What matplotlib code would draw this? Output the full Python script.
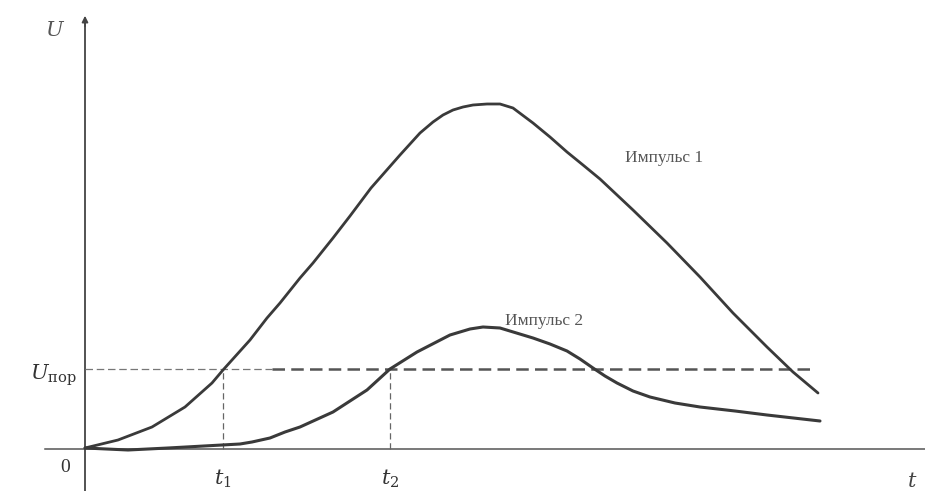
import matplotlib
matplotlib.use("Agg")
import matplotlib.pyplot as plt

# Pulse 1 (time, voltage)
t1_curve = [0, 33, 67, 100, 127, 138, 147, 165, 182, 195, 215, 228, 248, 265, 286, 315, 335, 348,
            358, 368, 378, 388, 402, 415, 428, 448, 465, 482, 498, 515, 548, 582, 615, 648, 682, 708, 733]
u1_curve = [1, 9, 22, 42, 66, 79, 89, 109, 131, 146, 171, 186, 211, 233, 261, 294, 316, 327,
            334, 339, 342, 344, 345, 345, 341, 326, 312, 297, 284, 270, 239, 206, 172, 136, 102, 77, 56]

# Pulse 2
t2_curve = [0, 43, 83, 137, 155, 167, 185, 200, 215, 248, 282, 305, 332, 365, 385, 398, 415, 448,
            465, 482, 495, 508, 520, 532, 548, 565, 590, 615, 650, 682, 735]
u2_curve = [1, -1, 1, 4, 5, 7, 11, 17, 22, 37, 59, 80, 97, 114, 120, 122, 121, 111,
            105, 98, 90, 81, 73, 66, 58, 52, 46, 42, 38, 34, 28]

u_threshold = 80
t_cross = [138, 305]
t_labels = ["$t_1$", "$t_2$"]
pulse_labels = ["Импульс 1", "Импульс 2"]

plt.rcParams['mathtext.fontset'] = 'dejavuserif'
fig = plt.figure(figsize=(9.25, 4.91), dpi=100)
ax = fig.add_axes([0, 0, 1, 1])
ax.set_xlim(-85, 840)
ax.set_ylim(-42, 449)
ax.axis("off")

serif = ['Liberation Serif', 'DejaVu Serif']
ink = '#3a3a3a'

# axes
ax.plot([-40, 840], [0, 0], color='#555555', lw=1.1)
ax.plot([0, 0], [-42, 428], color='#444444', lw=1.3)
ax.annotate('', xy=(0, 436), xytext=(0, 420),
            arrowprops=dict(arrowstyle='-|>', color='#444444', lw=1.2, mutation_scale=9))

# threshold
ax.plot([0, 187], [u_threshold, u_threshold], color='#777777', lw=0.9, dashes=(6, 3))
ax.plot([187, 727], [u_threshold, u_threshold], color='#555555', lw=1.8, dashes=(5, 2.5))
for tc in t_cross:
    ax.plot([tc, tc], [0, u_threshold], color='#666666', lw=0.9, dashes=(5, 3))

# curves
ax.plot(t1_curve, u1_curve, color=ink, lw=2.0, solid_capstyle='round', solid_joinstyle='round')
ax.plot(t2_curve, u2_curve, color=ink, lw=2.2, solid_capstyle='round', solid_joinstyle='round')

# labels
ax.text(-30, 419, '$U$', fontsize=15, color='#555555', ha='center', va='center')
ax.text(-55, 74, r'$U_{\rm пор}$', fontsize=15, color='#333333', ha='left', va='center',
        family=serif)
ax.text(-20, -18, '0', fontsize=14, color='#333333', ha='center', va='center', family=serif)
for tc, lab in zip(t_cross, t_labels):
    ax.text(tc, -30, lab, fontsize=15, color='#333333', ha='center', va='center')
ax.text(827, -32, '$t$', fontsize=15, color='#444444', ha='center', va='center')
ax.text(540, 291, pulse_labels[0], fontsize=12.5, color='#555555', ha='left', va='center', family=serif)
ax.text(459, 128, pulse_labels[1], fontsize=12.5, color='#555555', ha='center', va='center', family=serif)

fig.savefig('out.png', dpi=100)
